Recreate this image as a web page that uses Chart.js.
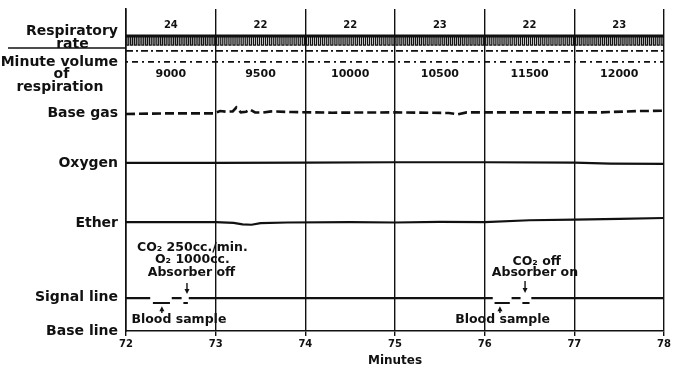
<!DOCTYPE html>
<html>
<head>
<meta charset="utf-8">
<script src="https://cdn.jsdelivr.net/npm/chart.js@4.4.1/dist/chart.umd.min.js"></script>
<style>
  html, body { margin: 0; padding: 0; background: #fff; }
</style>
</head>
<body>
<canvas id="chart" width="673" height="368"></canvas>
<script>
/* --------------------------------------
   DATA
-------------------------------------- */
const minutes = [72, 73, 74, 75, 76, 77, 78];
const respRates = [24, 22, 22, 23, 22, 23];
const minuteVolumes = [9000, 9500, 10000, 10500, 11500, 12000];

// row labels on the left and the level each one sits at (0 = base line, 100 = top)
const rowNames = [
  ["Respiratory", "rate      "],
  ["Minute volume", "of          ", "respiration   "],
  "Base gas",
  "Oxygen",
  "Ether",
  "Signal line",
  "Base line",
];
const rowLevels = [91.0, 79.6, 67.5, 52.0, 33.4, 10.5, 0];

// respiratory tracing: top of the band and depth of each breath stroke
const respTop = 91.6;
const respBottom = 88.8;
const respMarkLevel = 87.0;
const volumeLineLevel = 83.6;

const baseGasTime = [72.0, 72.5, 72.98, 73.05, 73.12, 73.19, 73.23, 73.28, 73.34, 73.38, 73.44, 73.52, 73.62, 73.85, 74.3, 75.0, 75.6, 75.7, 75.8, 76.5, 77.3, 77.7, 78.0];
const baseGasLevel = [67.4, 67.6, 67.6, 68.3, 68.1, 68.2, 69.4, 67.9, 68.1, 68.8, 67.9, 67.8, 68.2, 68.0, 67.8, 67.9, 67.7, 67.3, 67.9, 67.9, 67.9, 68.3, 68.4];

const oxygenTime = [72.0, 73.0, 74.0, 75.0, 76.0, 77.0, 77.4, 78.0];
const oxygenLevel = [52.2, 52.2, 52.3, 52.4, 52.4, 52.3, 52.0, 51.9];

const etherTime = [72.0, 72.6, 73.0, 73.2, 73.3, 73.4, 73.5, 73.8, 74.5, 75.0, 75.5, 76.0, 76.5, 77.0, 77.5, 78.0];
const etherLevel = [33.8, 33.8, 33.8, 33.6, 33.1, 33.0, 33.5, 33.7, 33.8, 33.7, 33.9, 33.8, 34.4, 34.6, 34.8, 35.1];

// signal line: null marks a break in the pen
const signalTime = [72.0, 72.27, 72.28, 72.30, 72.49, 72.50, 72.51, 72.62, 72.63, 72.64, 72.69, 72.695, 72.70, 76.09, 76.10, 76.11, 76.28, 76.29, 76.30, 76.40, 76.41, 76.42, 76.50, 76.51, 76.52, 78.0];
const signalLevel = [10.2, 10.2, null, 8.7, 8.7, null, 10.2, 10.2, null, 8.7, 8.7, null, 10.2, 10.2, null, 8.7, 8.7, null, 10.2, 10.2, null, 8.7, 8.7, null, 10.2, 10.2];

/* --------------------------------------
   HELPERS
-------------------------------------- */
const ink = "#111";

function pairs(times, levels) {
  return times.map((t, i) => ({ x: t, y: levels[i] }));
}

// one down-and-up stroke per breath, spread through each minute by its rate
function respirationPoints() {
  const pts = [];
  respRates.forEach((rate, k) => {
    for (let j = 0; j < rate; j++) {
      const t = minutes[k] + (j + 0.5) / rate;
      const w = 0.25 / rate;
      pts.push({ x: t - w, y: respTop }, { x: t - w, y: respBottom }, { x: t + w, y: respBottom }, { x: t + w, y: respTop });
    }
  });
  return pts;
}

function flat(level) {
  return [{ x: minutes[0], y: level }, { x: minutes[minutes.length - 1], y: level }];
}

function drawArrow(ctx, x, y0, y1) {
  const dir = y1 > y0 ? 1 : -1;
  ctx.beginPath();
  ctx.moveTo(x, y0);
  ctx.lineTo(x, y1 - dir * 3);
  ctx.stroke();
  ctx.beginPath();
  ctx.moveTo(x, y1);
  ctx.lineTo(x - 2.5, y1 - dir * 5);
  ctx.lineTo(x + 2.5, y1 - dir * 5);
  ctx.closePath();
  ctx.fill();
}

/* --------------------------------------
   TEXT NOTES ON THE TRACING
-------------------------------------- */
const notesPlugin = {
  id: "notes",
  afterDatasetsDraw(chart) {
    const { ctx, chartArea, scales: { x, y } } = chart;
    ctx.save();
    ctx.fillStyle = ink;
    ctx.strokeStyle = ink;
    ctx.lineWidth = 1.4;
    ctx.textAlign = "center";
    ctx.textBaseline = "middle";

    // line under "Respiratory rate"
    const sepY = y.getPixelForValue(87.9);
    ctx.beginPath();
    ctx.moveTo(8, sepY);
    ctx.lineTo(chartArea.left, sepY);
    ctx.stroke();

    ctx.font = 'bold 10px "DejaVu Sans"';
    respRates.forEach((r, i) => {
      ctx.fillText(String(r), x.getPixelForValue(minutes[i] + 0.5), y.getPixelForValue(95.0));
    });
    ctx.font = 'bold 11px "DejaVu Sans"';
    minuteVolumes.forEach((v, i) => {
      ctx.fillText(String(v), x.getPixelForValue(minutes[i] + 0.5), y.getPixelForValue(79.9));
    });

    ctx.font = 'bold 12.5px "DejaVu Sans"';
    ctx.fillText("CO₂ 250cc./min.", x.getPixelForValue(72.74), y.getPixelForValue(26.0));
    ctx.fillText("O₂ 1000cc.", x.getPixelForValue(72.74), y.getPixelForValue(22.0));
    ctx.fillText("Absorber off", x.getPixelForValue(72.73), y.getPixelForValue(18.0));
    ctx.fillText("Blood sample", x.getPixelForValue(72.59), y.getPixelForValue(3.4));
    ctx.fillText("CO₂ off", x.getPixelForValue(76.58), y.getPixelForValue(21.4));
    ctx.fillText("Absorber on", x.getPixelForValue(76.56), y.getPixelForValue(18.0));
    ctx.fillText("Blood sample", x.getPixelForValue(76.2), y.getPixelForValue(3.4));

    drawArrow(ctx, x.getPixelForValue(72.68), y.getPixelForValue(14.9), y.getPixelForValue(11.5));
    drawArrow(ctx, x.getPixelForValue(72.40), y.getPixelForValue(5.6), y.getPixelForValue(7.7));
    drawArrow(ctx, x.getPixelForValue(76.45), y.getPixelForValue(15.5), y.getPixelForValue(11.8));
    drawArrow(ctx, x.getPixelForValue(76.17), y.getPixelForValue(5.6), y.getPixelForValue(7.7));
    ctx.restore();
  },
};

/* --------------------------------------
   CHART
-------------------------------------- */
const lineDefaults = { borderColor: ink, pointRadius: 0, tension: 0, fill: false, spanGaps: false };

new Chart(document.getElementById("chart"), {
  type: "line",
  data: {
    datasets: [
      { ...lineDefaults, data: respirationPoints(), borderWidth: 1.3 },
      { ...lineDefaults, data: flat(respTop), borderWidth: 3 },
      { ...lineDefaults, data: flat(respMarkLevel), borderWidth: 1.8, borderDash: [7, 3, 2, 3] },
      { ...lineDefaults, data: flat(volumeLineLevel), borderWidth: 1.8, borderDash: [2, 4, 6, 4] },
      { ...lineDefaults, data: pairs(baseGasTime, baseGasLevel), borderWidth: 2.6, borderDash: [9, 4] },
      { ...lineDefaults, data: pairs(oxygenTime, oxygenLevel), borderWidth: 2.2 },
      { ...lineDefaults, data: pairs(etherTime, etherLevel), borderWidth: 2.2 },
      { ...lineDefaults, data: pairs(signalTime, signalLevel), borderWidth: 2.2 },
    ],
  },
  options: {
    responsive: false,
    animation: false,
    layout: { padding: { top: 9, right: 6, left: 0, bottom: 0 } },
    plugins: { legend: { display: false }, tooltip: { enabled: false } },
    scales: {
      x: {
        type: "linear",
        min: 72,
        max: 78,
        ticks: { stepSize: 1, color: ink, padding: 2, font: { family: "DejaVu Sans", weight: "bold", size: 10 } },
        grid: { color: ink, lineWidth: 1.4, tickLength: 5 },
        border: { display: true, color: ink, width: 1.6 },
        title: {
          display: true,
          text: "Minutes",
          color: ink,
          padding: { top: 0, bottom: 0 },
          font: { family: "DejaVu Sans", weight: "bold", size: 12 },
        },
        afterFit(scale) { scale.height = 37; },
      },
      y: {
        min: 0,
        max: 100,
        afterBuildTicks(scale) { scale.ticks = rowLevels.map((v) => ({ value: v })); },
        ticks: {
          color: ink,
          padding: 8,
          font: { family: "DejaVu Sans", weight: "bold", size: 14, lineHeight: 0.9 },
          callback: (v, i) => rowNames[i],
        },
        grid: { display: false, drawTicks: false },
        border: { display: true, color: ink, width: 1.6 },
        afterFit(scale) {
          scale.width = 126;
          scale.paddingTop = 0;
          scale.paddingBottom = 0;
        },
      },
    },
  },
  plugins: [notesPlugin],
});
</script>
</body>
</html>
